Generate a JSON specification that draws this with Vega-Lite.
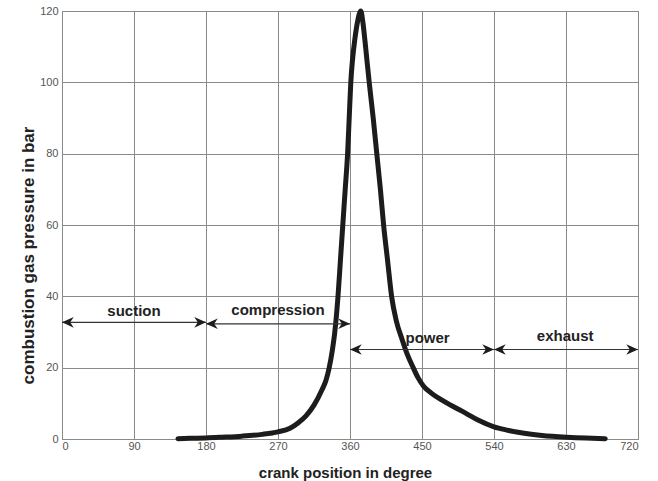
{
  "$schema": "https://vega.github.io/schema/vega-lite/v6.json",
  "autosize": "none",
  "width": 576,
  "height": 428,
  "padding": {"left": 62, "top": 11, "right": 20, "bottom": 42},
  "background": "#ffffff",
  "config": {
    "font": "Liberation Sans",
    "view": {"stroke": "#8a8a8a", "strokeWidth": 1},
    "axis": {
      "gridColor": "#8a8a8a",
      "gridOpacity": 1,
      "gridWidth": 1,
      "domainColor": "#8a8a8a",
      "ticks": false,
      "labelColor": "#555555",
      "labelFontSize": 11,
      "labelFont": "Liberation Sans",
      "titleFont": "Liberation Sans",
      "titleFontWeight": "bold",
      "titleColor": "#222222"
    }
  },
  "datasets": {
    "curve": [
      {"deg": 145, "bar": 0.1}, {"deg": 160, "bar": 0.2}, {"deg": 180, "bar": 0.3},
      {"deg": 200, "bar": 0.5}, {"deg": 225, "bar": 0.8}, {"deg": 250, "bar": 1.3},
      {"deg": 270, "bar": 2.0}, {"deg": 285, "bar": 3.0}, {"deg": 295, "bar": 4.5},
      {"deg": 305, "bar": 6.5}, {"deg": 315, "bar": 9.5}, {"deg": 325, "bar": 13.8},
      {"deg": 330, "bar": 16.5}, {"deg": 334, "bar": 20}, {"deg": 338, "bar": 25},
      {"deg": 341, "bar": 30}, {"deg": 345, "bar": 40}, {"deg": 348, "bar": 50},
      {"deg": 351, "bar": 60}, {"deg": 354, "bar": 70}, {"deg": 357, "bar": 80},
      {"deg": 359, "bar": 90}, {"deg": 361, "bar": 100}, {"deg": 363, "bar": 106},
      {"deg": 366, "bar": 112}, {"deg": 369, "bar": 116.5}, {"deg": 373.5, "bar": 120},
      {"deg": 376, "bar": 117}, {"deg": 379, "bar": 111}, {"deg": 384, "bar": 100},
      {"deg": 389, "bar": 90}, {"deg": 393.5, "bar": 80}, {"deg": 398, "bar": 70},
      {"deg": 402, "bar": 60}, {"deg": 407, "bar": 50}, {"deg": 412, "bar": 40},
      {"deg": 418, "bar": 33}, {"deg": 425, "bar": 28}, {"deg": 432, "bar": 23.5},
      {"deg": 439, "bar": 20}, {"deg": 445, "bar": 17.2}, {"deg": 452, "bar": 14.8},
      {"deg": 462, "bar": 12.8}, {"deg": 475, "bar": 10.9}, {"deg": 489, "bar": 9.1},
      {"deg": 505, "bar": 7.2}, {"deg": 520, "bar": 5.3}, {"deg": 540, "bar": 3.4},
      {"deg": 556, "bar": 2.5}, {"deg": 572, "bar": 1.8}, {"deg": 600, "bar": 1.0},
      {"deg": 631, "bar": 0.5}, {"deg": 655, "bar": 0.25}, {"deg": 679, "bar": 0.1}
    ],
    "arrows": [
      {"phase": "suction", "start": 0, "end": 180, "level": 32.7},
      {"phase": "compression", "start": 180, "end": 360, "level": 32.3},
      {"phase": "power", "start": 360, "end": 540, "level": 25.1},
      {"phase": "exhaust", "start": 540, "end": 720, "level": 25.1}
    ],
    "heads": [
      {"pos": 0, "level": 32.7, "dir": "left"}, {"pos": 180, "level": 32.7, "dir": "right"},
      {"pos": 180, "level": 32.3, "dir": "left"}, {"pos": 360, "level": 32.3, "dir": "right"},
      {"pos": 360, "level": 25.1, "dir": "left"}, {"pos": 540, "level": 25.1, "dir": "right"},
      {"pos": 540, "level": 25.1, "dir": "left"}, {"pos": 720, "level": 25.1, "dir": "right"}
    ],
    "labels": [
      {"text": "suction", "pos": 90, "level": 35.9},
      {"text": "compression", "pos": 270, "level": 36.2},
      {"text": "power", "pos": 457, "level": 28.3},
      {"text": "exhaust", "pos": 629, "level": 29.0}
    ]
  },
  "layer": [
    {
      "data": {"name": "curve"},
      "mark": {"type": "line", "color": "#1c1c1c", "strokeWidth": 5, "strokeJoin": "round", "strokeCap": "round", "interpolate": "monotone"},
      "encoding": {
        "x": {"field": "deg", "type": "quantitative", "scale": {"domain": [0, 720], "nice": false},
              "axis": {"values": [0, 90, 180, 270, 360, 450, 540, 630, 720], "title": "crank position in degree", "labelPadding": 1,
                       "titleFontSize": 15, "titleX": 283, "titleY": 38, "titleBaseline": "alphabetic", "titleAlign": "center"}},
        "y": {"field": "bar", "type": "quantitative", "scale": {"domain": [0, 120], "nice": false},
              "axis": {"values": [0, 20, 40, 60, 80, 100, 120], "title": "combustion gas pressure in bar", "labelPadding": 4,
                       "titleFontSize": 17, "titleX": -29, "titleY": 244, "titleAngle": -90, "titleBaseline": "alphabetic", "titleAlign": "center"}}
      }
    },
    {
      "data": {"name": "arrows"},
      "mark": {"type": "rule", "color": "#333333", "strokeWidth": 1.2},
      "encoding": {
        "x": {"field": "start", "type": "quantitative"},
        "x2": {"field": "end"},
        "y": {"field": "level", "type": "quantitative"}
      }
    },
    {
      "data": {"name": "heads"},
      "mark": {"type": "point", "filled": true, "color": "#1c1c1c", "size": 550, "opacity": 1},
      "encoding": {
        "x": {"field": "pos", "type": "quantitative"},
        "y": {"field": "level", "type": "quantitative"},
        "shape": {"field": "dir", "type": "nominal", "legend": null,
                  "scale": {"domain": ["left", "right"], "range": ["M0,0 L1,-0.45 L0.7,0 L1,0.45 Z", "M0,0 L-1,-0.45 L-0.7,0 L-1,0.45 Z"]}}
      }
    },
    {
      "data": {"name": "labels"},
      "mark": {"type": "text", "font": "Liberation Sans", "fontSize": 15, "fontWeight": "bold", "color": "#222222"},
      "encoding": {
        "x": {"field": "pos", "type": "quantitative"},
        "y": {"field": "level", "type": "quantitative"},
        "text": {"field": "text"}
      }
    }
  ]
}
